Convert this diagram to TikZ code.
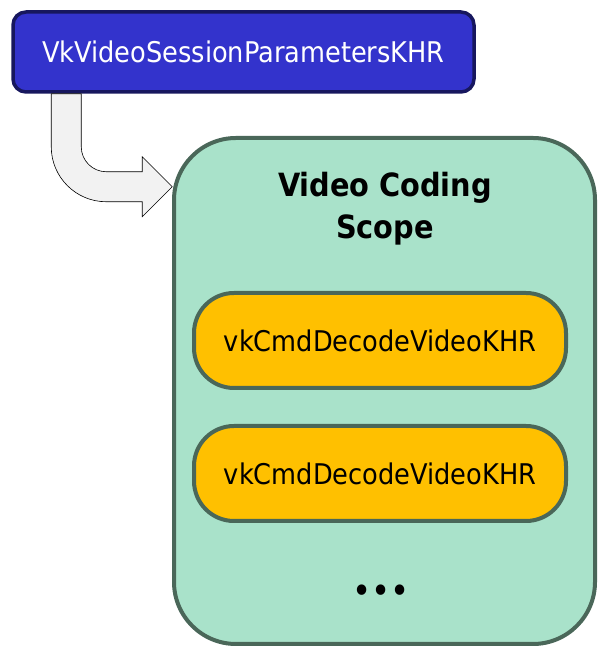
\documentclass[tikz,border=0pt]{standalone}
\usepackage{fontspec}
\setmainfont{DejaVu Sans Condensed}
\usetikzlibrary{calc}
\definecolor{parblue}{HTML}{3333CC}
\definecolor{pardark}{HTML}{17175E}
\definecolor{scopegreen}{HTML}{A9E2CA}
\definecolor{scopeedge}{HTML}{4A6759}
\definecolor{cmdorange}{HTML}{FFC000}
\definecolor{arrowgray}{HTML}{F2F2F2}
\tikzset{
    paramnode/.style = {rectangle, rounded corners=13pt, line width=3.5pt, draw=pardark, fill=parblue, text=white, minimum width=461pt, minimum height=80pt, font=\fontsize{28.5}{34}\selectfont},
    scopenode/.style = {rectangle, rounded corners=62pt, line width=4pt, draw=scopeedge, fill=scopegreen, minimum width=421pt, minimum height=506pt},
    cmdnode/.style = {rectangle, rounded corners=40pt, line width=4pt, draw=scopeedge, fill=cmdorange, minimum width=372pt, minimum height=95pt, font=\fontsize{28.5}{34}\selectfont},
    titlenode/.style = {align=center, font=\fontsize{32}{42}\selectfont\bfseries},
    dotsnode/.style = {font=\fontsize{36}{40}\selectfont},
    edgearrow/.style = {draw=black, line width=0.6pt, fill=arrowgray, line join=miter}
}
\begin{document}
\begin{tikzpicture}[x=1pt,y=1pt]
\useasboundingbox (0,0) rectangle (598,647);
%
\node[paramnode] at (243.5, 595) (params) {VkVideoSessionParametersKHR};
\node[scopenode] at (384.5, 256) (scope) {};
\node[titlenode] at (385, 438) (title) {Video Coding\\Scope};
\node[cmdnode] at (380, 306.5) (decodeA) {vkCmdDecodeVideoKHR};
\node[cmdnode] at (380, 173.5) (decodeB) {vkCmdDecodeVideoKHR};
\node[dotsnode] at (381, 53) (dots) {•••};
%
% bent block arrow from params into the scope
\draw[edgearrow] ($(params.south west)+(40,0)$) -- ++(0,-53)
    arc[start angle=180, end angle=270, radius=55] -- ++(36,0) -- ++(0,-15)
    -- ++(30,30) -- ++(-30,30) -- ++(0,-15) -- ++(-36,0)
    arc[start angle=270, end angle=180, radius=25] -- ++(0,53) -- cycle;

\end{tikzpicture}
\end{document}
